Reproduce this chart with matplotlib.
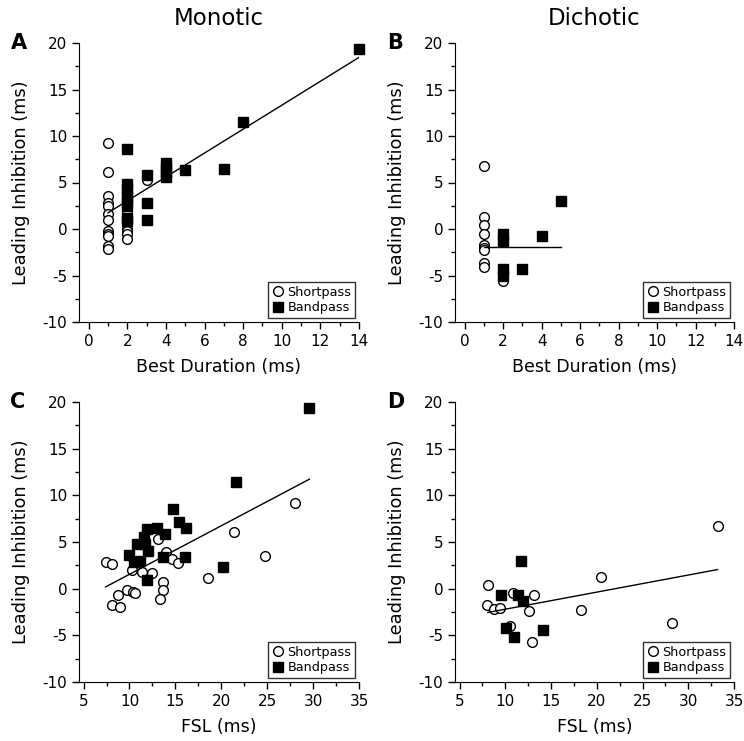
import numpy as np
import matplotlib
matplotlib.use("Agg")
import matplotlib.pyplot as plt
from matplotlib.ticker import MultipleLocator

plt.rcParams["font.family"] = "DejaVu Sans"
plt.rcParams["axes.unicode_minus"] = False

# --- Panel A: Monotic, best duration ---
a_short_x = [1] * 12 + [2] * 5 + [3]
a_short_y = [9.2, 6.1, 3.5, 2.8, 2.5, 1.6, 1.0, -0.25, -0.5, -0.8, -1.8, -2.1,
             1.8, 0.0, -0.25, -0.5, -1.1, 5.3]
a_band_x = [2, 2, 2, 2, 2, 2, 2, 2, 3, 3, 3, 4, 4, 4, 4, 5, 7, 8, 14]
a_band_y = [8.55, 4.8, 4.3, 3.6, 3.0, 2.5, 1.2, 0.9, 5.8, 2.75, 0.95,
            7.1, 6.6, 6.0, 5.6, 6.33, 6.4, 11.46, 19.35]
a_fit = (1.286, 0.45, 1, 14)  # slope, intercept, x from, x to

# --- Panel B: Dichotic, best duration ---
b_short_x = [1] * 9 + [2]
b_short_y = [6.76, 1.3, 0.4, -0.5, -1.67, -2.0, -2.3, -3.7, -4.1, -5.6]
b_band_x = [2, 2, 2, 2, 3, 4, 5]
b_band_y = [-0.5, -1.3, -4.3, -5.1, -4.25, -0.74, 3.0]
b_fit = (0.0, -1.92, 1, 5)

# --- Panel C: Monotic, FSL ---
c_short_x = [7.4, 8.1, 8.1, 8.8, 9.0, 9.7, 10.4, 10.6, 10.3, 11.4, 12.4,
             13.1, 13.6, 13.6, 13.3, 14.0, 14.6, 15.3, 18.5, 21.4, 24.8, 28.0]
c_short_y = [2.88, 2.59, -1.7, -0.73, -1.98, -0.16, -0.34, -0.45, 2.05, 1.8, 1.7,
             5.3, 0.73, -0.16, -1.16, 3.88, 3.17, 2.77, 1.16, 6.1, 3.52, 9.2]
c_band_x = [10.0, 10.5, 11.1, 10.8, 11.6, 11.9, 11.7, 12.0, 11.9, 13.0, 13.9,
            13.6, 14.7, 15.4, 16.2, 16.1, 20.2, 21.6, 29.6]
c_band_y = [3.59, 2.88, 2.98, 4.77, 5.56, 6.35, 4.77, 4.02, 0.98, 6.53, 5.85,
            3.41, 8.56, 7.1, 6.45, 3.41, 2.34, 11.46, 19.33]
c_fit = (0.52, -3.66, 7.4, 29.6)

# --- Panel D: Dichotic, FSL ---
d_short_x = [8.1, 8.0, 8.8, 9.45, 10.5, 10.8, 12.55, 12.9, 13.1, 18.3, 20.5, 28.25, 33.3]
d_short_y = [0.39, -1.76, -2.22, -2.08, -4.02, -0.5, -2.44, -5.67, -0.72, -2.26, 1.29, -3.73, 6.71]
d_band_x = [9.56, 10.04, 10.95, 11.39, 11.68, 11.93, 14.12]
d_band_y = [-0.65, -4.23, -5.13, -0.65, 2.94, -1.36, -4.38]
d_fit = (0.183, -4.03, 8.1, 33.2)

W, H = 744, 741
fig = plt.figure(figsize=(W / 100, H / 100), dpi=100)


def make_ax(left, top, right, bottom):
    return fig.add_axes([left / W, 1 - bottom / H, (right - left) / W, (bottom - top) / H])


def draw_panel(ax, sx, sy, bx, by, fit, xlim, xmajor, xminor, xlabel, letter):
    ax.plot(sx, sy, "o", ms=7, mfc="white", mec="black", mew=1, ls="none",
            label="Shortpass", clip_on=False)
    ax.plot(bx, by, "s", ms=7, mfc="black", mec="black", mew=1, ls="none",
            label="Bandpass", clip_on=False)
    m, b, x0, x1 = fit
    xx = np.array([x0, x1])
    ax.plot(xx, m * xx + b, color="black", lw=1)

    ax.set_xlim(*xlim)
    ax.set_ylim(-10, 20)
    ax.xaxis.set_major_locator(MultipleLocator(xmajor))
    ax.xaxis.set_minor_locator(MultipleLocator(xminor))
    ax.yaxis.set_major_locator(MultipleLocator(5))
    ax.yaxis.set_minor_locator(MultipleLocator(2.5))
    for s in ["top", "right"]:
        ax.spines[s].set_visible(False)
    ax.tick_params(which="major", direction="out", length=5, width=1, labelsize=11)
    ax.tick_params(which="minor", direction="out", length=3, width=1)
    ax.set_xlabel(xlabel, fontsize=12.5)
    ax.set_ylabel("Leading Inhibition (ms)", fontsize=12.8)
    ax.xaxis.set_label_coords(0.5, -0.13)
    ax.yaxis.set_label_coords(-0.175, 0.5)
    leg = ax.legend(loc="lower right", fontsize=9.2, frameon=True, fancybox=False,
                    borderaxespad=0.3, handletextpad=0.2, handlelength=1.0,
                    borderpad=0.3, labelspacing=0.2)
    leg.get_frame().set_edgecolor("black")
    leg.get_frame().set_linewidth(1)
    ax.text(-0.245, 1.0, letter, transform=ax.transAxes, fontsize=15,
            fontweight="bold", ha="left", va="center")


axA = make_ax(79, 43, 359, 322)
axB = make_ax(455, 43, 734, 322)
axC = make_ax(79, 402, 359, 682)
axD = make_ax(455, 402, 734, 682)

draw_panel(axA, a_short_x, a_short_y, a_band_x, a_band_y, a_fit, (-0.5, 14), 2, 1,
           "Best Duration (ms)", "A")
draw_panel(axB, b_short_x, b_short_y, b_band_x, b_band_y, b_fit, (-0.5, 14), 2, 1,
           "Best Duration (ms)", "B")
draw_panel(axC, c_short_x, c_short_y, c_band_x, c_band_y, c_fit, (4.5, 35), 5, 2.5,
           "FSL (ms)", "C")
draw_panel(axD, d_short_x, d_short_y, d_band_x, d_band_y, d_fit, (4.5, 35), 5, 2.5,
           "FSL (ms)", "D")

fig.text(219 / W, 1 - 18.5 / H, "Monotic", fontsize=16.5, ha="center", va="center")
fig.text(594 / W, 1 - 18.5 / H, "Dichotic", fontsize=16.5, ha="center", va="center")

fig.savefig("out.png", dpi=100)
